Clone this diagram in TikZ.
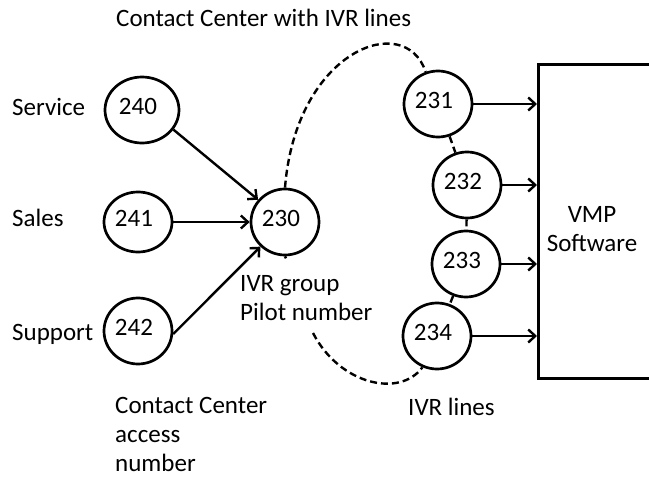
\documentclass[tikz,border=0pt]{standalone}
\usepackage{fontspec}
\setmainfont{Carlito}
\usetikzlibrary{shapes.geometric, arrows.meta, calc}
\begin{document}
\begin{tikzpicture}[x=1pt, y=-1pt,
  every node/.style={font=\fontsize{25}{29}\selectfont, inner sep=0pt},
  num/.style={draw, ellipse, line width=2.7pt, minimum width=68pt, minimum height=66pt,
    text height=16pt, text depth=7pt, execute at begin node=\hspace*{-8pt}},
  lbl/.style={anchor=base west, align=left},
  link/.style={line width=2.4pt, -{Straight Barb[length=7pt,width=13pt]}},
  ring/.style={line width=2.4pt, dash pattern=on 7pt off 4pt}
]
\useasboundingbox (0,0) rectangle (649,479);
\clip (0,0) rectangle (649,479);

% captions (multi-line ones are placed by the baseline of their last line)
\node[lbl] (title) at (116,27) {Contact Center with IVR lines};
\node[lbl] (service) at (12,115) {Service};
\node[lbl] (sales) at (12,226) {Sales};
\node[lbl] (support) at (12,340) {Support};
\node[lbl] (pilot) at (240,320) {IVR group\\Pilot number};
\node[lbl] (access) at (115,471) {Contact Center\\access\\number};
\node[lbl] (ivrlines) at (408,415) {IVR lines};

% access numbers and the pilot number
\node[num, minimum width=74pt] (c240) at (142,110) {240};
\node[num, minimum height=60pt] (c241) at (138,222) {241};
\node[num] (c242) at (138,331) {242};
\node[num] (c230) at (285,222) {230};

% IVR lines
\node[num] (c231) at (438,104) {231};
\node[num] (c232) at (467,185) {232};
\node[num] (c233) at (466,264) {233};
\node[num] (c234) at (437,336) {234};

% VMP software block (runs off the right edge)
\node[draw, line width=2.7pt, anchor=north west, minimum width=150pt, minimum height=314pt] (vmpbox) at (537,63) {};
\node[align=center, anchor=base] (vmp) at (592,251) {VMP\\Software};

% calls routed to the pilot number
\draw[link] (c240.-32) -- (c230);
\draw[link] (c241) -- (c230);
\draw[link] (c242.-5) -- (c230);

% IVR lines feeding the VMP software
\foreach \n in {c231,c232,c233,c234}
  \draw[link] (\n.east) -- (\n.east -| vmpbox.west);

% dashed IVR group outline
\draw[ring] (c230.north) .. controls (296,50) and (405,10) .. (c231.111);
\draw[ring] (c231) -- (c232);
\draw[ring] (c232) -- (c233);
\draw[ring] (c233) -- (c234);
\coordinate (ringstart) at (313,333);
\draw[ring] (ringstart) .. controls (340,385) and (400,398) .. (c234.245);
\draw[ring] (c230.south) -- ++(1,2);
\end{tikzpicture}
\end{document}
